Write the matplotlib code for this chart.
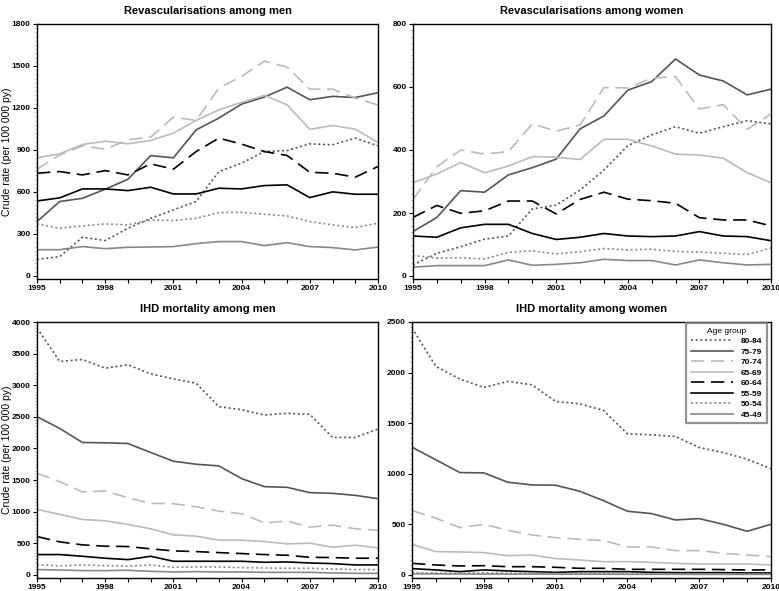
import matplotlib
matplotlib.use("Agg")
import matplotlib.pyplot as plt
from matplotlib.ticker import MultipleLocator

plt.rcParams['font.family'] = ['Liberation Sans', 'DejaVu Sans']

years = list(range(1995, 2011))
age_groups = ["80-84", "75-79", "70-74", "65-69", "60-64", "55-59", "50-54", "45-49"]

# revascularisations among men
revasc_men = {
    "80-84": [119, 138, 277, 253, 341, 412, 472, 532, 746, 806, 889, 896, 944, 937, 985, 930],
    "75-79": [389, 532, 555, 620, 691, 860, 844, 1044, 1128, 1228, 1278, 1349, 1259, 1283, 1275, 1309],
    "70-74": [763, 865, 930, 906, 973, 992, 1135, 1111, 1342, 1426, 1535, 1492, 1335, 1335, 1271, 1221],
    "65-69": [844, 873, 939, 963, 944, 968, 1020, 1111, 1187, 1240, 1290, 1223, 1047, 1075, 1049, 954],
    "60-64": [734, 746, 722, 753, 722, 801, 763, 889, 985, 942, 889, 861, 741, 734, 706, 782],
    "55-59": [536, 558, 622, 622, 610, 634, 586, 586, 627, 622, 646, 651, 560, 601, 584, 584],
    "50-54": [372, 341, 358, 372, 365, 400, 396, 412, 453, 455, 441, 429, 389, 365, 346, 377],
    "45-49": [188, 188, 210, 195, 205, 207, 210, 231, 246, 246, 217, 238, 210, 203, 186, 207],
}

# revascularisations among women
revasc_women = {
    "80-84": [35, 72, 93, 117, 127, 213, 225, 273, 336, 414, 448, 474, 453, 474, 493, 483],
    "75-79": [141, 186, 271, 266, 321, 344, 371, 467, 508, 590, 617, 689, 638, 619, 575, 593],
    "70-74": [243, 347, 400, 387, 395, 483, 460, 479, 598, 597, 628, 633, 530, 544, 466, 514],
    "65-69": [296, 324, 360, 328, 349, 379, 377, 370, 434, 434, 413, 387, 384, 374, 328, 296],
    "60-64": [186, 224, 199, 207, 238, 238, 197, 243, 266, 244, 239, 231, 185, 178, 178, 159],
    "55-59": [127, 123, 153, 164, 164, 135, 116, 123, 135, 127, 125, 127, 141, 127, 125, 112],
    "50-54": [65, 57, 58, 54, 75, 80, 70, 77, 87, 83, 85, 78, 76, 72, 68, 89],
    "45-49": [28, 33, 33, 33, 51, 34, 37, 42, 53, 49, 49, 35, 51, 42, 35, 37],
}

# IHD mortality among men
mort_men = {
    "80-84": [3905, 3376, 3407, 3270, 3323, 3180, 3100, 3032, 2661, 2614, 2529, 2556, 2540, 2175, 2175, 2307],
    "75-79": [2503, 2317, 2095, 2090, 2079, 1937, 1799, 1751, 1725, 1524, 1397, 1386, 1302, 1291, 1259, 1206],
    "70-74": [1608, 1476, 1312, 1328, 1222, 1132, 1127, 1079, 1011, 968, 825, 852, 757, 788, 730, 709],
    "65-69": [1037, 958, 878, 857, 799, 730, 635, 614, 550, 550, 529, 492, 503, 439, 471, 429],
    "60-64": [608, 524, 476, 455, 450, 413, 381, 370, 354, 339, 323, 312, 280, 275, 265, 265],
    "55-59": [323, 323, 296, 265, 243, 296, 217, 217, 217, 217, 201, 206, 190, 180, 159, 159],
    "50-54": [164, 143, 159, 148, 138, 159, 122, 127, 127, 116, 111, 106, 106, 95, 85, 85],
    "45-49": [85, 79, 69, 69, 74, 58, 48, 53, 48, 48, 42, 42, 42, 32, 26, 26],
}

# IHD mortality among women
mort_women = {
    "80-84": [2441, 2061, 1936, 1853, 1913, 1880, 1715, 1692, 1626, 1395, 1385, 1369, 1260, 1210, 1144, 1049],
    "75-79": [1263, 1138, 1012, 1009, 917, 890, 887, 828, 735, 630, 607, 544, 557, 501, 432, 501],
    "70-74": [637, 561, 468, 501, 442, 396, 369, 353, 340, 277, 277, 241, 241, 214, 198, 181],
    "65-69": [303, 231, 228, 221, 191, 198, 162, 148, 132, 132, 125, 115, 109, 109, 109, 99],
    "60-64": [115, 99, 89, 92, 82, 82, 76, 66, 66, 56, 56, 56, 56, 53, 50, 50],
    "55-59": [63, 50, 33, 50, 40, 33, 26, 33, 33, 33, 26, 23, 23, 23, 20, 20],
    "50-54": [23, 20, 18, 22, 17, 20, 15, 15, 14, 14, 13, 12, 12, 12, 11, 11],
    "45-49": [12, 11, 10, 9, 9, 9, 8, 8, 8, 7, 7, 7, 6, 6, 6, 6],
}

dotted = (0, (1.2, 1.6))
longdash = (0, (8, 4))
styles = {
    "80-84": ("#555555", dotted),
    "75-79": ("#555555", "-"),
    "70-74": ("#bbbbbb", longdash),
    "65-69": ("#bbbbbb", "-"),
    "60-64": ("#000000", longdash),
    "55-59": ("#000000", "-"),
    "50-54": ("#888888", dotted),
    "45-49": ("#888888", "-"),
}

W, H = 779, 591
fig = plt.figure(figsize=(W / 100, H / 100), dpi=100)

def px_rect(left, right, top, bottom):
    return [left / W, 1 - bottom / H, (right - left) / W, (bottom - top) / H]

panels = [
    # data, title, ymax, ystep, (left, right, top, bottom) in pixels
    (revasc_men, "Revascularisations among men", 1800, 300, (37, 378, 24, 279)),
    (revasc_women, "Revascularisations among women", 800, 200, (413, 771, 24, 279)),
    (mort_men, "IHD mortality among men", 4000, 500, (37, 378, 322, 578)),
    (mort_women, "IHD mortality among women", 2500, 500, (412, 771, 322, 578)),
]

axes = []
for i, (data, title, ymax, ystep, box) in enumerate(panels):
    ax = fig.add_axes(px_rect(*box))
    for g in age_groups:
        c, ls = styles[g]
        ax.plot(years, data[g], color=c, linestyle=ls, linewidth=1.2, label=g)
    ax.set_xlim(1995, 2010)
    ax.set_ylim(-ymax * 3 / 252, ymax)
    ax.xaxis.set_major_locator(MultipleLocator(3))
    ax.xaxis.set_minor_locator(MultipleLocator(1))
    ax.yaxis.set_major_locator(MultipleLocator(ystep))
    ax.yaxis.set_minor_locator(MultipleLocator(ystep / 10))
    ax.tick_params(which="major", direction="out", length=3, width=0.8,
                   labelsize=6, pad=1.5)
    ax.tick_params(which="minor", axis="y", direction="out", length=1.5, width=0.5,
                   color="#888888")
    ax.tick_params(which="minor", axis="x", direction="out", length=3, width=0.8)
    for lab in ax.get_xticklabels() + ax.get_yticklabels():
        lab.set_fontweight("bold")
    for s in ax.spines.values():
        s.set_linewidth(1.0)
    ax.set_title(title, fontsize=8, fontweight="bold", pad=7)
    if i % 2 == 0:
        ax.set_ylabel("Crude rate (per 100 000 py)", fontsize=7.5)
        yc = 1 - (box[2] + box[3]) / 2 / H
        ax.yaxis.set_label_coords(12 / W, yc, transform=fig.transFigure)
    axes.append(ax)

ax = axes[3]
bx = (767 - 412) / (771 - 412)
by = (578 - 323) / (578 - 322)
leg = ax.legend(title="Age group", loc="upper right",
                prop={"size": 6, "weight": "bold"},
                title_fontsize=6, handlelength=5.0, handletextpad=1.0,
                labelspacing=0.32, borderpad=0.55, borderaxespad=0,
                fancybox=False, bbox_to_anchor=(bx, by))
leg.get_frame().set_edgecolor("#777777")
leg.get_frame().set_linewidth(1.6)

fig.savefig("out.png", dpi=100)
